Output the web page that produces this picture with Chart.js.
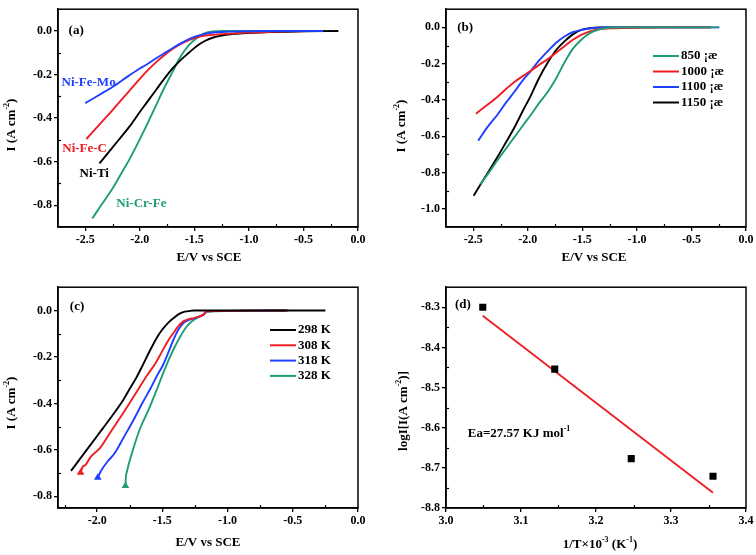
<!DOCTYPE html>
<html>
<head>
<meta charset="utf-8">
<script src="https://cdn.jsdelivr.net/npm/chart.js@4.4.1/dist/chart.umd.min.js"></script>
<style>
  body { margin: 0; background: #fff; }
  #wrap { position: relative; width: 756px; height: 555px; }
  canvas { position: absolute; }
</style>
</head>
<body>
<div id="wrap">
  <canvas id="chartA" width="378" height="278" style="left:0;top:0"></canvas>
  <canvas id="chartB" width="378" height="278" style="left:378px;top:0"></canvas>
  <canvas id="chartC" width="378" height="277" style="left:0;top:278px"></canvas>
  <canvas id="chartD" width="378" height="277" style="left:378px;top:278px"></canvas>
</div>
<script>
// (a) polarisation curves of the four alloys
const moX = [-2.50, -2.40, -2.30, -2.25, -2.10, -2.00, -1.94, -1.85, -1.75, -1.63, -1.55, -1.48, -1.40, -1.33, -1.17, -1.00, -0.80, -0.60, -0.32];
const moY = [-0.331, -0.302, -0.272, -0.257, -0.205, -0.172, -0.155, -0.125, -0.095, -0.058, -0.037, -0.024, -0.013, -0.007, -0.003, -0.001, 0, 0, 0];
const feCX = [-2.49, -2.40, -2.30, -2.246, -2.10, -2.00, -1.94, -1.85, -1.787, -1.70, -1.633, -1.55, -1.48, -1.40, -1.327, -1.17, -1.00, -0.80, -0.60, -0.32];
const feCY = [-0.496, -0.446, -0.391, -0.361, -0.277, -0.220, -0.187, -0.143, -0.116, -0.083, -0.062, -0.042, -0.030, -0.021, -0.017, -0.012, -0.007, -0.004, -0.002, 0];
const tiX = [-2.37, -2.30, -2.20, -2.09, -2.00, -1.94, -1.85, -1.787, -1.70, -1.633, -1.55, -1.48, -1.40, -1.327, -1.25, -1.17, -1.02, -0.80, -0.50, -0.18];
const tiY = [-0.608, -0.565, -0.504, -0.436, -0.372, -0.331, -0.270, -0.227, -0.172, -0.137, -0.100, -0.070, -0.045, -0.030, -0.021, -0.015, -0.010, -0.005, -0.002, 0];
const crX = [-2.436, -2.35, -2.246, -2.17, -2.09, -2.00, -1.94, -1.85, -1.787, -1.70, -1.633, -1.55, -1.48, -1.43, -1.39, -1.327, -1.25, -1.00, -0.60, -0.23];
const crY = [-0.861, -0.797, -0.720, -0.654, -0.585, -0.497, -0.436, -0.340, -0.272, -0.188, -0.123, -0.065, -0.033, -0.017, -0.008, -0.002, 0, 0, 0, 0];

// (b) annealing temperatures
const t850X = [-2.436, -2.35, -2.277, -2.20, -2.123, -2.05, -1.97, -1.90, -1.817, -1.74, -1.664, -1.59, -1.51, -1.43, -1.357, -1.26, -1.10, -0.80, -0.50, -0.25];
const t850Y = [-0.865, -0.795, -0.731, -0.668, -0.605, -0.545, -0.480, -0.420, -0.355, -0.280, -0.194, -0.120, -0.068, -0.032, -0.014, -0.003, 0, 0, 0, 0];
const t1000X = [-2.475, -2.40, -2.277, -2.20, -2.123, -2.05, -1.97, -1.90, -1.817, -1.74, -1.664, -1.59, -1.51, -1.43, -1.357, -1.20, -1.00, -0.70, -0.32];
const t1000Y = [-0.476, -0.440, -0.382, -0.340, -0.301, -0.270, -0.238, -0.208, -0.175, -0.140, -0.104, -0.070, -0.041, -0.022, -0.011, -0.005, -0.002, 0, 0];
const t1100X = [-2.454, -2.37, -2.277, -2.20, -2.123, -2.05, -1.97, -1.90, -1.817, -1.74, -1.664, -1.59, -1.51, -1.43, -1.357, -1.25, -1.00, -0.60, -0.244];
const t1100Y = [-0.624, -0.550, -0.480, -0.415, -0.355, -0.295, -0.238, -0.185, -0.131, -0.085, -0.050, -0.027, -0.014, -0.006, -0.002, 0, 0, 0, 0];
const t1150X = [-2.497, -2.40, -2.277, -2.20, -2.123, -2.05, -1.97, -1.90, -1.817, -1.74, -1.664, -1.59, -1.51, -1.418, -1.35, -1.25, -1.00, -0.60, -0.32];
const t1150Y = [-0.928, -0.833, -0.713, -0.633, -0.552, -0.465, -0.373, -0.283, -0.194, -0.125, -0.077, -0.040, -0.014, -0.003, 0, 0, 0, 0, 0];

// (c) solution temperatures
const k298X = [-2.20, -2.10, -2.00, -1.90, -1.80, -1.75, -1.70, -1.65, -1.59, -1.54, -1.50, -1.45, -1.414, -1.38, -1.34, -1.30, -1.26, -1.20, -0.80, -0.25];
const k298Y = [-0.690, -0.615, -0.540, -0.465, -0.385, -0.337, -0.290, -0.235, -0.167, -0.115, -0.082, -0.050, -0.033, -0.018, -0.007, -0.003, 0, 0, 0, 0];
const k308X = [-2.127, -2.11, -2.09, -2.05, -1.975, -1.90, -1.77, -1.70, -1.618, -1.55, -1.50, -1.45, -1.414, -1.38, -1.34, -1.30, -1.26, -1.22, -1.185, -1.16, -1.00, -0.80, -0.535];
const k308Y = [-0.698, -0.672, -0.665, -0.630, -0.590, -0.526, -0.415, -0.353, -0.280, -0.225, -0.174, -0.125, -0.096, -0.070, -0.047, -0.038, -0.033, -0.027, -0.018, -0.004, -0.002, -0.001, 0];
const k318X = [-1.995, -1.97, -1.92, -1.873, -1.85, -1.80, -1.72, -1.65, -1.592, -1.54, -1.498, -1.45, -1.414, -1.38, -1.338, -1.30, -1.26, -1.22, -1.185, -1.16, -1.00, -0.80, -0.55];
const k318Y = [-0.719, -0.690, -0.650, -0.620, -0.600, -0.550, -0.470, -0.395, -0.337, -0.280, -0.238, -0.175, -0.125, -0.085, -0.054, -0.042, -0.035, -0.027, -0.018, -0.004, -0.002, -0.001, 0];
const k328X = [-1.783, -1.78, -1.77, -1.72, -1.67, -1.60, -1.54, -1.48, -1.414, -1.36, -1.312, -1.27, -1.236, -1.21, -1.185, -1.16, -1.00, -0.80, -0.55];
const k328Y = [-0.755, -0.720, -0.690, -0.590, -0.507, -0.420, -0.337, -0.250, -0.167, -0.110, -0.068, -0.045, -0.033, -0.025, -0.018, -0.007, -0.003, -0.001, 0];

// (d) Arrhenius plot
const invT = [3.049, 3.145, 3.247, 3.356];
const logI = [-8.300, -8.454, -8.677, -8.721];
const fitX = [3.049, 3.356];
const fitY = [-8.321, -8.762];

// tick labels
const ticksAX = [-2.5, -2.0, -1.5, -1.0, -0.5, 0.0];
const ticksAY = [0.0, -0.2, -0.4, -0.6, -0.8];
const ticksBY = [0.0, -0.2, -0.4, -0.6, -0.8, -1.0];
const ticksCX = [-2.0, -1.5, -1.0, -0.5, 0.0];
const ticksDX = [3.0, 3.1, 3.2, 3.3, 3.4];
const ticksDY = [-8.3, -8.4, -8.5, -8.6, -8.7, -8.8];
const minorAX = [-2.25, -1.75, -1.25, -0.75, -0.25];
const minorAY = [-0.1, -0.3, -0.5, -0.7];
const minorBY = [-0.1, -0.3, -0.5, -0.7, -0.9];
const minorCX = [-2.25, -1.75, -1.25, -0.75, -0.25];
const minorDX = [3.05, 3.15, 3.25, 3.35];
const minorDY = [-8.35, -8.45, -8.55, -8.65, -8.75];

const FONT = "'Liberation Serif', 'Times New Roman', serif";
const GREEN = '#1d9e78', RED = '#f01c24', BLUE = '#2040ff', BLACK = '#000';

function pts(xs, ys) { return xs.map((x, i) => ({ x: x, y: ys[i] })); }

function curve(label, xs, ys, color, endMark) {
  return {
    label: label, data: pts(xs, ys), showLine: true, borderColor: color, backgroundColor: color,
    borderWidth: 1.9, cubicInterpolationMode: 'monotone',
    pointRadius: c => (endMark && c.dataIndex === 0) ? 2.5 : 0, pointStyle: 'triangle'
  };
}

function axis(min, max, ticks, size, isX, digits) {
  return {
    type: 'linear', min: min, max: max,
    afterBuildTicks: s => { s.ticks = ticks.map(v => ({ value: v })); },
    afterFit: s => { if (isX) s.height = size; else s.width = size; },
    grid: { drawOnChartArea: false, drawTicks: true, tickLength: 4, color: '#000', lineWidth: 1.3 },
    border: { display: true, color: '#000', width: 1.5 },
    ticks: { color: '#000', padding: 2, autoSkip: false, maxRotation: 0,
      font: { family: FONT, size: 12, weight: 'bold' }, callback: v => v.toFixed(digits) }
  };
}

function drawRich(ctx, parts, x, y, size, align, color) {
  const big = 'bold ' + size + 'px ' + FONT, small = 'bold ' + Math.round(size * 0.65) + 'px ' + FONT;
  let w = 0;
  parts.forEach(p => { ctx.font = p[1] ? small : big; w += ctx.measureText(p[0]).width; });
  let cx = align === 'center' ? x - w / 2 : x;
  ctx.fillStyle = color; ctx.textBaseline = 'middle'; ctx.textAlign = 'left';
  parts.forEach(p => {
    ctx.font = p[1] ? small : big;
    ctx.fillText(p[0], cx, p[1] ? y - size * 0.38 : y);
    cx += ctx.measureText(p[0]).width;
  });
}

// frame, inward minor ticks, axis titles, notes and legend
const deco = {
  id: 'deco',
  afterDraw(chart, args, o) {
    const ctx = chart.ctx, a = chart.chartArea, sx = chart.scales.x, sy = chart.scales.y;
    ctx.save();
    ctx.strokeStyle = '#000'; ctx.lineWidth = 1.2;
    (o.minorX || []).forEach(v => {
      const px = Math.round(sx.getPixelForValue(v)) + 0.5;
      ctx.beginPath(); ctx.moveTo(px, a.bottom); ctx.lineTo(px, a.bottom - 3); ctx.stroke();
    });
    (o.minorY || []).forEach(v => {
      const py = Math.round(sy.getPixelForValue(v)) + 0.5;
      ctx.beginPath(); ctx.moveTo(a.left, py); ctx.lineTo(a.left + 3, py); ctx.stroke();
    });
    ctx.lineWidth = 1.5;
    ctx.strokeRect(a.left, a.top, a.right - a.left, a.bottom - a.top);

    drawRich(ctx, o.xTitle.parts, o.xTitle.x, o.xTitle.y, 13, 'center', '#000');
    ctx.save();
    ctx.translate(o.yTitle.x, o.yTitle.y); ctx.rotate(-Math.PI / 2);
    drawRich(ctx, o.yTitle.parts, 0, 0, 13, 'center', '#000');
    ctx.restore();

    (o.notes || []).forEach(n => {
      drawRich(ctx, n.parts, sx.getPixelForValue(n.x), sy.getPixelForValue(n.y), n.size || 13, 'left', n.color || '#000');
    });

    if (o.legend) {
      const L = o.legend;
      chart.data.datasets.forEach((ds, i) => {
        const y = L.y + i * L.gap;
        ctx.strokeStyle = ds.borderColor; ctx.lineWidth = 2;
        ctx.beginPath(); ctx.moveTo(L.x, y); ctx.lineTo(L.x + 26, y); ctx.stroke();
        drawRich(ctx, [[ds.label]], L.x + 28, y, 13, 'left', '#000');
      });
    }
    ctx.restore();
  }
};

function panel(id, datasets, sx, sy, pad, decoOpts) {
  new Chart(document.getElementById(id), {
    type: 'scatter',
    data: { datasets: datasets },
    options: {
      responsive: false, animation: false, devicePixelRatio: 1,
      layout: { padding: { top: pad[0], right: pad[1], bottom: 0, left: 0 } },
      plugins: { legend: { display: false }, tooltip: { enabled: false }, deco: decoOpts },
      scales: { x: sx, y: sy }
    },
    plugins: [deco]
  });
}

panel('chartA', [
  curve('Ni-Fe-Mo', moX, moY, BLUE),
  curve('Ni-Fe-C', feCX, feCY, RED),
  curve('Ni-Ti', tiX, tiY, BLACK),
  curve('Ni-Cr-Fe', crX, crY, GREEN)
], axis(-2.75, 0, ticksAX, 51, true, 1), axis(-0.9, 0.1, ticksAY, 58, false, 1), [3, 20], {
  minorX: minorAX, minorY: minorAY,
  xTitle: { x: 209, y: 258, parts: [['E/V vs SCE']] },
  yTitle: { x: 12, y: 125, parts: [['I (A cm'], ['-2', 1], [')']] },
  notes: [
    { x: -2.653, y: 0.0, parts: [['(a)']] },
    { x: -2.718, y: -0.236, color: BLUE, parts: [['Ni-Fe-Mo']] },
    { x: -2.711, y: -0.540, color: RED, parts: [['Ni-Fe-C']] },
    { x: -2.552, y: -0.656, parts: [['Ni-Ti']] },
    { x: -2.215, y: -0.794, color: GREEN, parts: [['Ni-Cr-Fe']] }
  ]
});

panel('chartB', [
  curve('850 ¡æ', t850X, t850Y, GREEN),
  curve('1000 ¡æ', t1000X, t1000Y, RED),
  curve('1100 ¡æ', t1100X, t1100Y, BLUE),
  curve('1150 ¡æ', t1150X, t1150Y, BLACK)
], axis(-2.75, 0, ticksAX, 51, true, 1), axis(-1.1, 0.1, ticksBY, 68, false, 1), [3, 10], {
  minorX: minorAX, minorY: minorBY,
  xTitle: { x: 216, y: 258, parts: [['E/V vs SCE']] },
  yTitle: { x: 24, y: 126, parts: [['I (A cm'], ['-2', 1], [')']] },
  notes: [{ x: -2.647, y: 0.0, parts: [['(b)']] }],
  legend: { x: 275, y: 56, gap: 15.5 }
});

panel('chartC', [
  curve('298 K', k298X, k298Y, BLACK),
  curve('308 K', k308X, k308Y, RED, true),
  curve('318 K', k318X, k318Y, BLUE, true),
  curve('328 K', k328X, k328Y, GREEN, true)
], axis(-2.3, 0, ticksCX, 47, true, 1), axis(-0.85, 0.1, ticksAY, 58, false, 1), [7, 20], {
  minorX: minorCX, minorY: minorAY,
  xTitle: { x: 208, y: 265, parts: [['E/V vs SCE']] },
  yTitle: { x: 12, y: 125, parts: [['I (A cm'], ['-2', 1], [')']] },
  notes: [{ x: -2.209, y: 0.017, parts: [['(c)']] }],
  legend: { x: 270, y: 52, gap: 15.3 }
});

panel('chartD', [
  { label: 'data', data: pts(invT, logI), pointStyle: 'rect', pointRadius: 5, backgroundColor: BLACK, borderColor: BLACK, borderWidth: 0 },
  { label: 'fit', data: pts(fitX, fitY), showLine: true, pointRadius: 0, borderColor: RED, borderWidth: 1.8 }
], axis(3.0, 3.4, ticksDX, 47, true, 1), axis(-8.8, -8.25, ticksDY, 68, false, 1), [7, 10], {
  minorX: minorDX, minorY: minorDY,
  xTitle: { x: 222, y: 267, parts: [['1/T\u00d710'], ['-3', 1], [' (K'], ['-1', 1], [')']] },
  yTitle: { x: 26, y: 133, parts: [['logI[I(A cm'], ['-2', 1], [')]']] },
  notes: [
    { x: 3.012, y: -8.293, parts: [['(d)']] },
    { x: 3.029, y: -8.615, parts: [['Ea=27.57 KJ mol'], ['-1', 1]] }
  ]
});
</script>
</body>
</html>
